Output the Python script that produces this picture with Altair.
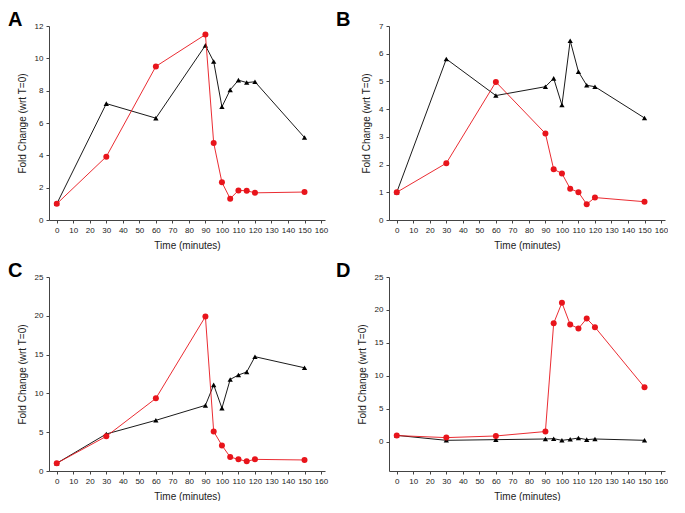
import altair as alt
import pandas as pd

time = [0, 30, 60, 90, 95, 100, 105, 110, 115, 120, 150]

a_black = [1.0, 7.2, 6.3, 10.8, 9.8, 7.0, 8.05, 8.65, 8.5, 8.55, 5.1]
a_red = [1.0, 3.92, 9.5, 11.47, 4.77, 2.33, 1.32, 1.83, 1.81, 1.68, 1.73]
b_black = [1.0, 5.81, 4.49, 4.81, 5.11, 4.15, 6.47, 5.35, 4.86, 4.81, 3.68]
b_red = [1.0, 2.05, 4.98, 3.12, 1.83, 1.68, 1.13, 1.0, 0.57, 0.81, 0.66]
c_black = [1.0, 4.77, 6.53, 8.46, 11.1, 8.1, 11.8, 12.37, 12.76, 14.73, 13.3]
c_red = [1.0, 4.47, 9.36, 19.9, 5.1, 3.3, 1.8, 1.5, 1.25, 1.5, 1.42]
d_black = [1.0, 0.25, 0.35, 0.45, 0.5, 0.25, 0.4, 0.6, 0.35, 0.45, 0.25]
d_red = [0.97, 0.66, 0.91, 1.58, 17.99, 21.1, 17.8, 17.2, 18.7, 17.4, 8.28]

x_ticks = list(range(0, 161, 10))
RED = "#e8141b"
FONT = "Liberation Sans"


def panel(label, black, red, ydomain, yticks, dx):
    df = pd.DataFrame({"time": time, "black": black, "red": red})
    x = alt.X("time:Q",
              scale=alt.Scale(domain=[-4.7, 162.4], nice=False, zero=False),
              axis=alt.Axis(values=x_ticks, title="Time (minutes)"))
    base = alt.Chart(df)

    def y(col):
        return alt.Y(f"{col}:Q",
                     scale=alt.Scale(domain=ydomain, nice=False, zero=False),
                     axis=alt.Axis(values=yticks, title="Fold Change (wrt T=0)"))

    bl = base.mark_line(color="black", strokeWidth=0.9).encode(x=x, y=y("black"))
    bp = base.mark_point(shape="triangle-up", filled=True, color="black",
                         size=28, opacity=1).encode(x=x, y=y("black"))
    rl = base.mark_line(color=RED, strokeWidth=0.9).encode(x=x, y=y("red"))
    rp = base.mark_point(shape="circle", filled=True, color=RED,
                         size=36, opacity=1).encode(x=x, y=y("red"))
    return alt.layer(bl, bp, rl, rp).properties(
        width=276, height=194,
        title=alt.TitleParams(label, anchor="start", frame="group", dx=dx,
                              fontSize=20, fontWeight="bold", font=FONT,
                              offset=-8, color="black"))


pA = panel("A", a_black, a_red, [0, 12], list(range(0, 13, 2)), -41)
pB = panel("B", b_black, b_red, [0, 7], list(range(0, 8)), -53)
pC = panel("C", c_black, c_red, [0, 25], list(range(0, 26, 5)), -41)
pD = panel("D", d_black, d_red, [-4.4, 25], list(range(0, 26, 5)), -53)

chart = alt.concat(
    pA, pB, pC, pD, columns=2,
    spacing={"row": 57, "column": 64}, bounds="flush",
).properties(padding={"left": 0, "top": 2, "right": 0, "bottom": 0}).configure_view(stroke=None).configure_axis(
    grid=False,
    labelFont=FONT, labelFontSize=8, labelColor="#222",
    titleFont=FONT, titleFontSize=10, titleFontWeight="normal", titleColor="#222",
    tickSize=3, tickColor="#444", domainColor="#444", domainWidth=1,
    labelPadding=3,
).configure_axisX(titlePadding=6).configure_axisY(titlePadding=7)

chart.save("out.html", embed_options={"renderer": "svg", "actions": False})
